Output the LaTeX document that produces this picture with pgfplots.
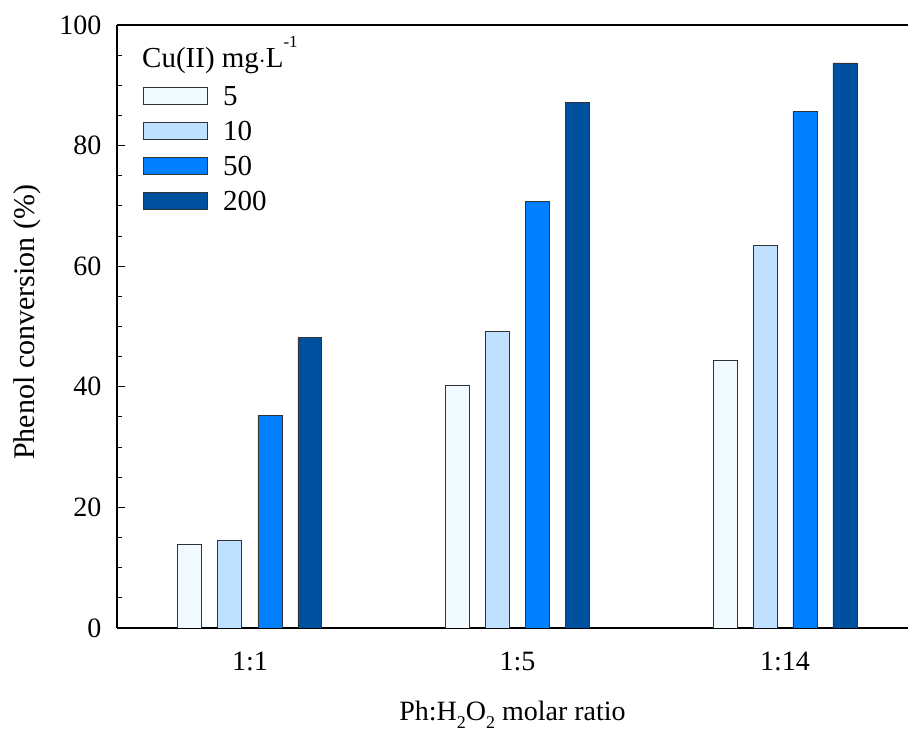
\documentclass[border=0pt]{standalone}
\usepackage{pgfplots}
\pgfplotsset{compat=1.18}
\usepackage{fontspec}
\setmainfont{Liberation Serif}
\definecolor{c1}{RGB}{240,250,255}
\definecolor{c2}{RGB}{192,224,255}
\definecolor{c3}{RGB}{0,128,255}
\definecolor{c4}{RGB}{0,80,160}
\newcommand{\sub}[1]{\raisebox{-8bp}{\fontsize{18bp}{18bp}\selectfont #1}}
\begin{document}
\fontsize{28bp}{33bp}\selectfont
\begin{tikzpicture}[x=1bp,y=1bp]
\path[use as bounding box] (-117,-106) rectangle (791,628);
\begin{axis}[
  at={(0,0)}, anchor=south west,
  scale only axis, width=791bp, height=603bp,
  xmin=-0.497, xmax=2.46, ymin=0, ymax=100,
  axis lines*=left,
  axis line style={line width=1.4bp, black},
  ytick={0,20,40,60,80,100},
  minor y tick num=3,
  tick align=inside,
  major tick length=8bp, minor tick length=5bp,
  tick style={line width=1bp, black},
  xtick={0,1,2}, xticklabels={1:1,1:5,1:14},
  x tick style={draw=none},
  /pgf/number format/assume math mode=true,
  ticklabel style={font=\fontsize{28bp}{33bp}\selectfont},
  yticklabel style={xshift=-6bp},
  xticklabel style={yshift=-14bp},
  ylabel={Phenol conversion (\%)},
  ylabel style={at={(axis description cs:-0.1138,0.507)}, anchor=center, font=\fontsize{30bp}{36bp}\selectfont},
  xlabel={Ph:H\sub{2}O\sub{2} molar ratio},
  xlabel style={at={(axis description cs:0.5,0)}, anchor=base, yshift=-92bp, font=\fontsize{28bp}{33bp}\selectfont},
  legend style={at={(axis description cs:0.0329,0.898)}, anchor=north west,
    draw=none, fill=none, inner sep=0pt, row sep=15.5bp,
    font=\fontsize{29bp}{34bp}\selectfont,
    nodes={inner sep=0pt, text depth=0pt},
    /tikz/every odd column/.append style={column sep=15bp}},
  legend cell align=left,
  legend image code/.code={\draw[#1, line width=0.8bp] (0bp,-8.5bp) rectangle (64bp,8.5bp);},
  bar width=0.0897,
]
\addplot[ybar, bar shift=-0.2243, fill=c1, draw=black!80, line width=0.9bp] coordinates {(0,13.9) (1,40.3) (2,44.4)};
\addlegendentry{5}
\addplot[ybar, bar shift=-0.0748, fill=c2, draw=black!80, line width=0.9bp] coordinates {(0,14.6) (1,49.1) (2,63.5)};
\addlegendentry{10}
\addplot[ybar, bar shift=0.0748, fill=c3, draw=black!80, line width=0.9bp] coordinates {(0,35.2) (1,70.8) (2,85.7)};
\addlegendentry{50}
\addplot[ybar, bar shift=0.2243, fill=c4, draw=black!80, line width=0.9bp] coordinates {(0,48.1) (1,87.2) (2,93.7)};
\addlegendentry{200}
\draw[line width=1.4bp] (rel axis cs:0,1) -- (rel axis cs:1,1);
\node[anchor=base west, inner sep=0pt, font=\fontsize{29bp}{34bp}\selectfont] at (axis description cs:0.0316,0.9287) {Cu(II) mg$\cdot$L\raisebox{0.72em}{\fontsize{17bp}{17bp}\selectfont -1}};
\end{axis}
\end{tikzpicture}
\end{document}
